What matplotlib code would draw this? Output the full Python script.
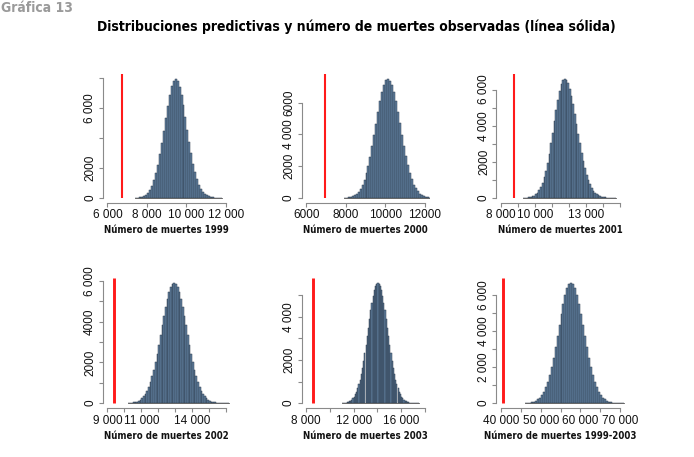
import matplotlib
matplotlib.use("Agg")
import matplotlib.pyplot as plt
from matplotlib import font_manager
import numpy as np

# ---------------- data ----------------
start_1999, width_1999 = 7400, 100
counts_1999 = [12, 26, 46, 82, 138, 225, 357, 551, 826, 1183, 1642, 2213, 2907, 3672, 4508,
               5365, 6171, 6895, 7477, 7844, 7970, 7803, 7436, 6885, 6212, 5416, 4570, 3743,
               2978, 2285, 1714, 1244, 877, 602, 398, 255, 163, 97, 56, 33, 18, 10, 6, 3]
obs_1999 = 6720

start_2000, width_2000 = 7900, 100
counts_2000 = [12, 22, 38, 64, 105, 170, 262, 395, 578, 822, 1140, 1540, 2030, 2600, 3250, 3950,
               4680, 5400, 6080, 6660, 7110, 7400, 7500, 7380, 7100, 6680, 6100, 5430, 4710,
               3980, 3280, 2630, 2060, 1570, 1170, 845, 598, 410, 275, 180, 114, 70, 42, 25]
obs_2000 = 6940

start_2001, width_2001 = 9300, 100
counts_2001 = [6, 11, 18, 30, 50, 81, 126, 195, 290, 423, 602, 838, 1135, 1505, 1947, 2455,
               3023, 3623, 4250, 4864, 5432, 5914, 6283, 6521, 6600, 6534, 6349, 6052, 5656,
               5188, 4666, 4112, 3564, 3023, 2515, 2053, 1650, 1294, 997, 752, 558, 407, 289,
               204, 139, 94, 62, 40, 26, 16, 10, 6, 4, 2, 1]
obs_2001 = 8770

start_2002, width_2002 = 10200, 100
counts_2002 = [9, 15, 23, 35, 54, 80, 117, 169, 238, 331, 453, 608, 797, 1033, 1316, 1640, 2012,
               2425, 2873, 3339, 3817, 4283, 4726, 5115, 5446, 5694, 5847, 5900, 5847, 5694,
               5446, 5115, 4726, 4283, 3817, 3339, 2873, 2425, 2012, 1640, 1316, 1033, 797,
               608, 453, 331, 238, 169, 117, 80, 54, 35, 23, 15, 9, 6, 4, 2, 1, 1]
obs_2002 = 9370

start_2003, width_2003 = 11000, 100
counts_2003 = [8, 12, 19, 28, 41, 60, 86, 120, 166, 228, 306, 406, 530, 685, 869, 1086, 1342,
               1632, 1961, 2312, 2696, 3091, 3498, 3905, 4289, 4645, 4957, 5219, 5408, 5531,
               5570, 5531, 5408, 5219, 4957, 4645, 4289, 3905, 3498, 3091, 2696, 2312, 1961,
               1632, 1342, 1086, 869, 685, 530, 406, 306, 228, 166, 120, 86, 60, 41, 28, 19,
               12, 8, 5, 3, 2, 1]
obs_2003 = 8545

start_total, width_total = 46000, 500
counts_total = [12, 20, 34, 56, 88, 137, 209, 311, 450, 637, 879, 1185, 1565, 2012, 2524, 3097,
                3704, 4330, 4935, 5502, 5981, 6347, 6580, 6660, 6580, 6347, 5981, 5502, 4935,
                4330, 3704, 3097, 2524, 2012, 1565, 1185, 879, 637, 450, 311, 209, 137, 88, 56,
                34, 20, 12, 7, 4, 2]
obs_total = 40400

xlabels = ["Número de muertes 1999", "Número de muertes 2000", "Número de muertes 2001",
           "Número de muertes 2002", "Número de muertes 2003", "Número de muertes 1999-2003"]

xticks_1999 = [6000, 8000, 10000, 12000]
xticklabels_1999 = ["6 000", "8 000", "10 000", "12 000"]
xticks_2000 = [6000, 8000, 10000, 12000]
xticklabels_2000 = ["6000", "8000", "10000", "12000"]
xticks_2001 = [8000, 9000, 10000, 11000, 12000, 13000, 14000, 15000]
xticklabels_2001 = ["8 000", "", "10 000", "", "", "13 000", "", ""]
xticks_2002 = [9000, 10000, 11000, 12000, 13000, 14000, 15000, 16000]
xticklabels_2002 = ["9 000", "", "11 000", "", "", "14 000", "", ""]
xticks_2003 = [8000, 10000, 12000, 14000, 16000, 18000]
xticklabels_2003 = ["8 000", "", "12 000", "", "16 000", ""]
xticks_total = [40000, 45000, 50000, 55000, 60000, 65000, 70000]
xticklabels_total = ["40 000", "", "50 000", "", "60 000", "", "70 000"]

yticks_1999 = [0, 2000, 4000, 6000, 8000]
yticklabels_1999 = ["0", "2000", "", "6 000", ""]
yticks_2000 = [0, 2000, 4000, 6000]
yticklabels_2000 = ["0", "2000", "4 000", "6000"]
yticks_2001 = [0, 1000, 2000, 3000, 4000, 5000, 6000]
yticklabels_2001 = ["0", "", "2000", "", "4 000", "", "6 000"]
yticks_2002 = [0, 1000, 2000, 3000, 4000, 5000, 6000]
yticklabels_2002 = ["0", "", "2000", "", "4000", "", "6 000"]
yticks_2003 = [0, 1000, 2000, 3000, 4000, 5000]
yticklabels_2003 = ["0", "", "2000", "", "4 000", ""]
yticks_total = [0, 1000, 2000, 3000, 4000, 5000, 6000]
yticklabels_total = ["0", "", "2 000", "", "4 000", "", "6 000"]

panels = [
    (start_1999, width_1999, counts_1999, obs_1999, xticks_1999, xticklabels_1999, yticks_1999, yticklabels_1999),
    (start_2000, width_2000, counts_2000, obs_2000, xticks_2000, xticklabels_2000, yticks_2000, yticklabels_2000),
    (start_2001, width_2001, counts_2001, obs_2001, xticks_2001, xticklabels_2001, yticks_2001, yticklabels_2001),
    (start_2002, width_2002, counts_2002, obs_2002, xticks_2002, xticklabels_2002, yticks_2002, yticklabels_2002),
    (start_2003, width_2003, counts_2003, obs_2003, xticks_2003, xticklabels_2003, yticks_2003, yticklabels_2003),
    (start_total, width_total, counts_total, obs_total, xticks_total, xticklabels_total, yticks_total, yticklabels_total),
]

# ---------------- fonts ----------------
names = {f.name for f in font_manager.fontManager.ttflist}
cond_files = [f for f in font_manager.fontManager.ttflist
              if f.name == "DejaVu Sans" and "condensed" in str(f.stretch).lower()]
if "Liberation Sans Narrow" in names:
    narrow = {"family": ["Liberation Sans Narrow", "DejaVu Sans"]}
elif cond_files:
    narrow = {"family": ["DejaVu Sans"], "stretch": "condensed"}
else:
    narrow = {"family": ["Roboto", "DejaVu Sans"]}
regular = ["Liberation Sans", "DejaVu Sans"]

# ---------------- layout ----------------
W, H = 694, 457
fig = plt.figure(figsize=(W / 100, H / 100), dpi=100)
fig.patch.set_facecolor("white")

lefts = [102.7, 301.5, 496.5]
tops = [74, 278]
bottoms = [202.7, 408]
pw = 128
axis_gray = "#8a8a8a"

for i, (start, bw, counts, obs, xt, xtl, yt, ytl) in enumerate(panels):
    r, c = divmod(i, 3)
    rect = [lefts[c] / W, 1 - bottoms[r] / H, pw / W, (bottoms[r] - tops[r]) / H]
    ax = fig.add_axes(rect)
    counts = np.asarray(counts, dtype=float)
    edges = start + bw * np.arange(len(counts))
    ax.bar(edges, counts, width=bw, align="edge", color="#5f7f9e",
           edgecolor="#2e3d4d", linewidth=0.35)
    ax.plot([edges[0], edges[-1] + bw], [0, 0], color="#555555", lw=0.6)
    M = counts.max()
    x0, x1 = xt[0], xt[-1]
    pad = 0.04 * (x1 - x0)
    ax.set_xlim(x0 - pad, x1 + pad)
    ax.set_ylim(-0.04 * M, 1.04 * M)
    lw = 1.5 if r == 0 else 2.1
    ax.plot([obs, obs], [0, 1.04 * M], color="#ff1a1a", lw=lw, solid_capstyle="butt",
            clip_on=False, zorder=5)

    for s in ["top", "right"]:
        ax.spines[s].set_visible(False)
    for s in ["left", "bottom"]:
        ax.spines[s].set_color(axis_gray)
        ax.spines[s].set_linewidth(0.8)
    ax.spines["bottom"].set_bounds(x0, x1)
    ax.spines["left"].set_bounds(yt[0], yt[-1])

    ax.set_xticks(xt)
    ax.set_xticklabels(xtl, fontsize=8.5, family=regular, color="#111111")
    ax.set_yticks(yt)
    ax.set_yticklabels(ytl, fontsize=8.5, family=regular, color="#111111",
                       rotation=90, va="center")
    ax.tick_params(axis="both", direction="out", length=3.2, width=0.8, color=axis_gray, pad=1.5)
    ax.patch.set_alpha(0)

    ax.annotate(xlabels[i], xy=(0.5, 0), xycoords="axes fraction",
                xytext=(0, -20), textcoords="offset points", ha="center", va="center",
                fontsize=6.9, fontweight="bold", color="#111111", **narrow)

fig.text(1 / W, 1 - 8 / H, "Gráfica 13", ha="left", va="center", fontsize=10,
         fontweight="bold", color="#9a9a9a", **narrow)
fig.text(356 / W, 1 - 27 / H,
         "Distribuciones predictivas y número de muertes observadas (línea sólida)",
         ha="center", va="center", fontsize=10, fontweight="bold", color="#000000", **narrow)

fig.savefig("out.png", dpi=100, facecolor="white")
